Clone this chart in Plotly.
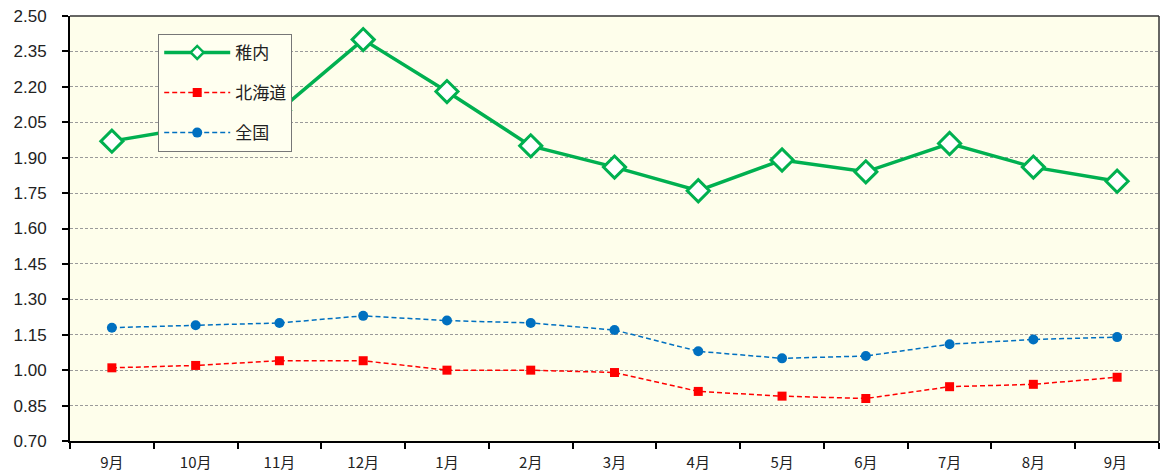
import plotly.graph_objects as go

months = ["9月", "10月", "11月", "12月", "1月", "2月", "3月", "4月", "5月", "6月", "7月", "8月", "9月 "]
wakkanai = [1.97, 2.03, 2.10, 2.40, 2.18, 1.95, 1.86, 1.76, 1.89, 1.84, 1.96, 1.86, 1.80]
hokkaido = [1.01, 1.02, 1.04, 1.04, 1.00, 1.00, 0.99, 0.91, 0.89, 0.88, 0.93, 0.94, 0.97]
zenkoku = [1.18, 1.19, 1.20, 1.23, 1.21, 1.20, 1.17, 1.08, 1.05, 1.06, 1.11, 1.13, 1.14]
yticks = [0.70, 0.85, 1.00, 1.15, 1.30, 1.45, 1.60, 1.75, 1.90, 2.05, 2.20, 2.35, 2.50]

GREEN, RED, BLUE = "#00B050", "#FF0000", "#0070C0"
DASH = "5px,3px"

fig = go.Figure()
# data traces
fig.add_trace(go.Scatter(
    x=months, y=wakkanai, name="稚内", mode="lines+markers", showlegend=False,
    line=dict(color=GREEN, width=3.5),
    marker=dict(symbol="diamond", size=17, color="white", line=dict(color=GREEN, width=3)),
))
fig.add_trace(go.Scatter(
    x=months, y=hokkaido, name="北海道", mode="lines+markers", showlegend=False,
    line=dict(color=RED, width=1.5, dash=DASH),
    marker=dict(symbol="square", size=9, color=RED),
))
fig.add_trace(go.Scatter(
    x=months, y=zenkoku, name="全国", mode="lines+markers", showlegend=False,
    line=dict(color=BLUE, width=1.5, dash=DASH),
    marker=dict(symbol="circle", size=10, color=BLUE),
))
# legend entries (smaller markers, like the original legend)
fig.add_trace(go.Scatter(
    x=[None], y=[None], name="稚内", mode="lines+markers", legendgroup="a",
    line=dict(color=GREEN, width=3.5),
    marker=dict(symbol="diamond", size=10, color="white", line=dict(color=GREEN, width=2.5)),
))
fig.add_trace(go.Scatter(
    x=[None], y=[None], name="北海道", mode="lines+markers", legendgroup="b",
    line=dict(color=RED, width=1.5, dash=DASH),
    marker=dict(symbol="square", size=9, color=RED),
))
fig.add_trace(go.Scatter(
    x=[None], y=[None], name="全国", mode="lines+markers", legendgroup="c",
    line=dict(color=BLUE, width=1.5, dash=DASH),
    marker=dict(symbol="circle", size=10, color=BLUE),
))

fig.update_layout(
    width=1163, height=476,
    margin=dict(l=70, r=4, t=16, b=35),
    paper_bgcolor="white",
    plot_bgcolor="#FEFEEB",
    font=dict(family="Liberation Sans, Noto Sans CJK JP", color="#222222"),
    showlegend=True,
    legend=dict(
        x=0.081, y=0.958, xanchor="left", yanchor="top",
        bgcolor="#FFFFF0", bordercolor="#777777", borderwidth=1,
        font=dict(size=17, family="Noto Sans CJK JP", color="#222222"),
        tracegroupgap=15, traceorder="grouped", itemwidth=66,
        entrywidth=155,
    ),
    xaxis=dict(
        type="category", showgrid=False, tickson="boundaries",
        ticks="outside", ticklen=6, tickwidth=2, tickcolor="black",
        showline=True, linecolor="black", linewidth=2, mirror=False,
        tickfont=dict(size=15, family="Noto Sans CJK JP", color="#222222"),
        ticklabelstandoff=7,
        range=[-0.5, 12.5],
    ),
    yaxis=dict(
        range=[0.70, 2.50], tickvals=yticks, ticktext=[f"{v:.2f}" for v in yticks],
        showgrid=True, gridcolor="#9A9A9A", griddash="3px,2px", gridwidth=1,
        ticks="outside", ticklen=6, tickwidth=2, tickcolor="black",
        showline=True, linecolor="black", linewidth=2, zeroline=False,
        tickfont=dict(size=17, family="Liberation Sans", color="#222222"),
        ticklabelstandoff=12,
    ),
)
fig.add_shape(type="line", xref="paper", yref="paper", x0=0, x1=1, y0=1, y1=1,
              line=dict(color="#333333", width=1.5))
fig.add_shape(type="line", xref="paper", yref="paper", x0=1, x1=1, y0=0, y1=1,
              line=dict(color="#333333", width=1.5))

fig.write_html("out.html", config={"displayModeBar": False},
               post_script="document.body.style.margin='0';")
